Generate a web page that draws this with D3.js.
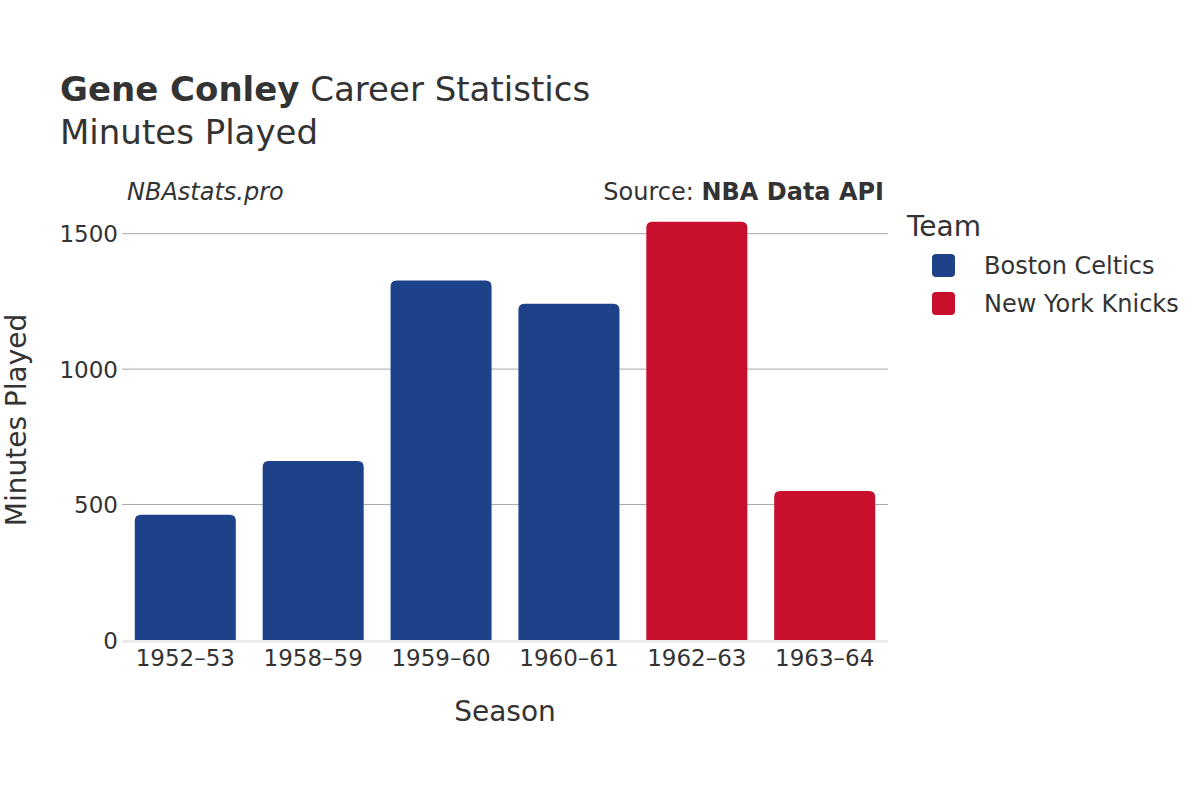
<!DOCTYPE html>
<html>
<head>
<meta charset="utf-8">
<script src="https://cdn.jsdelivr.net/npm/d3@7"></script>
<style>
  body { margin: 0; background: #fff; }
  text { font-family: "DejaVu Sans", sans-serif; fill: #333; }
</style>
</head>
<body>
<svg id="chart"></svg>
<script>
const width = 1200;
const height = 800;

const seasons = ['1952–53', '1958–59', '1959–60', '1960–61', '1962–63', '1963–64'];
const teams = ['BOS', 'BOS', 'BOS', 'BOS', 'NYK', 'NYK'];
const minutes = [462, 661, 1327, 1241, 1544, 550];
const teamNames = ['Boston Celtics', 'New York Knicks'];
const teamKeys = ['BOS', 'NYK'];
const yTicks = [0, 500, 1000, 1500];

const color = d3.scaleOrdinal().domain(teamKeys).range(['#1d428a', '#c8102e']);

const svg = d3.select('#chart').attr('width', width).attr('height', height);

const plotLeft = 122, plotRight = 888, plotTop = 212, plotBottom = 640;

const x = d3.scaleBand().domain(seasons).range([plotLeft, plotRight]).paddingInner(0.21).paddingOuter(0.1);
const y = d3.scaleLinear().domain([0, 1580]).range([plotBottom, plotTop]);

// grid
svg.append('g').selectAll('line').data(yTicks.filter(d => d > 0)).enter().append('line')
    .attr('x1', plotLeft).attr('x2', plotRight)
    .attr('y1', d => y(d)).attr('y2', d => y(d))
    .attr('stroke', '#a8a8a8').attr('stroke-width', 1);

// bars
const data = seasons.map((s, i) => ({season: s, team: teams[i], value: minutes[i]}));
svg.append('g').selectAll('path').data(data).enter().append('path')
    .attr('fill', d => color(d.team))
    .attr('d', d => {
        const x0 = x(d.season), w = x.bandwidth(), y0 = y(d.value), r = 6;
        return `M${x0},${plotBottom} V${y0 + r} Q${x0},${y0} ${x0 + r},${y0} H${x0 + w - r} Q${x0 + w},${y0} ${x0 + w},${y0 + r} V${plotBottom} Z`;
    });

// zero line
svg.append('line').attr('x1', plotLeft).attr('x2', plotRight)
    .attr('y1', plotBottom + 1.5).attr('y2', plotBottom + 1.5)
    .attr('stroke', '#ebebeb').attr('stroke-width', 3);

// y axis
const yAxis = svg.append('g').attr('transform', `translate(${plotLeft - 2},0)`)
    .call(d3.axisLeft(y).tickValues(yTicks).tickSize(0).tickPadding(2).tickFormat(d3.format('d')));
yAxis.select('.domain').remove();
yAxis.selectAll('text').attr('font-size', 23).style('fill', '#333').attr('dy', '0.35em');

// x axis
const xAxis = svg.append('g').attr('transform', `translate(0,${plotBottom})`)
    .call(d3.axisBottom(x).tickSize(0).tickPadding(6));
xAxis.select('.domain').remove();
xAxis.selectAll('text').attr('font-size', 23).style('fill', '#333').attr('dy', '0.85em');

// axis titles
svg.append('text').attr('x', 505).attr('y', 721).attr('text-anchor', 'middle')
    .attr('font-size', 28).text('Season');
svg.append('text').attr('transform', 'translate(26,420) rotate(-90)').attr('text-anchor', 'middle')
    .attr('font-size', 28).text('Minutes Played');

// titles
const title = svg.append('text').attr('x', 60).attr('y', 101).attr('font-size', 34);
title.append('tspan').attr('font-weight', 'bold').text('Gene Conley');
title.append('tspan').text(' Career Statistics');
svg.append('text').attr('x', 60).attr('y', 144).attr('font-size', 34).text('Minutes Played');

svg.append('text').attr('x', 127).attr('y', 200).attr('font-size', 24)
    .attr('font-style', 'italic').text('NBAstats.pro');
const src = svg.append('text').attr('x', 884).attr('y', 200).attr('font-size', 24).attr('text-anchor', 'end');
src.append('tspan').text('Source: ');
src.append('tspan').attr('font-weight', 'bold').text('NBA Data API');

// legend
svg.append('text').attr('x', 907).attr('y', 236).attr('font-size', 28).text('Team');
const legend = svg.append('g').selectAll('g').data(teamKeys).enter().append('g')
    .attr('transform', (d, i) => `translate(932,${254 + i * 38})`);
legend.append('rect').attr('width', 23).attr('height', 23).attr('rx', 4)
    .attr('fill', d => color(d));
legend.append('text').attr('x', 52).attr('y', 12).attr('dy', '0.35em').attr('font-size', 24)
    .text((d, i) => teamNames[i]);
</script>
</body>
</html>
